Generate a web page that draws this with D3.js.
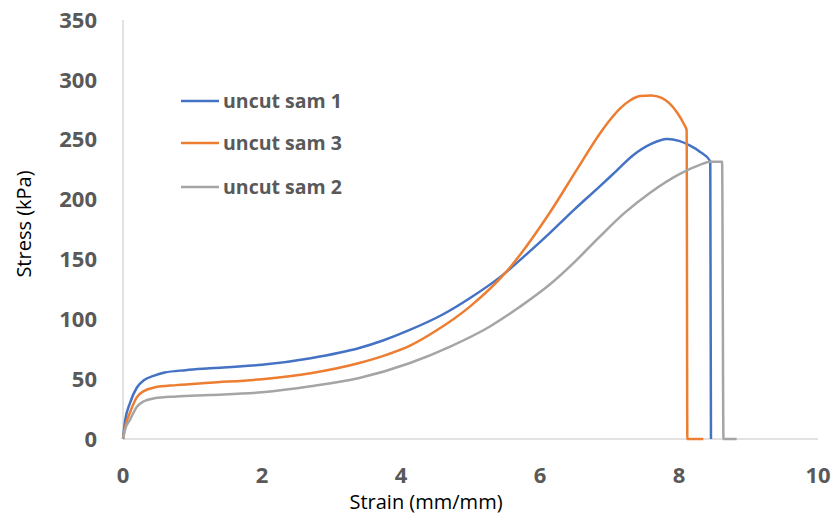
<!DOCTYPE html>
<html>
<head>
<meta charset="utf-8">
<script src="https://cdn.jsdelivr.net/npm/d3@7"></script>
<style>
  body { margin: 0; background: #fff; }
  svg { display: block; }
</style>
</head>
<body>
<script>
// series: [strain, stress]
var sam1 = [[0,0],[0.03,15],[0.1,30],[0.2,43],[0.3,49],[0.45,53],[0.6,55.5],[0.9,57.5],[1.25,59],[1.5,60],
  [2,62],[2.7,67.5],[3.4,76],[3.75,82.5],[4.1,90.5],[4.6,104],[5,118],[5.42,135],[5.8,154],[6.14,172],[6.5,192],
  [6.86,211],[7.1,224],[7.34,237],[7.6,246.5],[7.83,250.5],[8,249],[8.16,245],[8.3,240],[8.45,232],[8.46,0]];
var sam3 = [[0,0],[0.03,10],[0.1,22],[0.2,35],[0.3,40],[0.45,43],[0.77,45],[1.25,47],[2,50],[2.7,55],[3.4,63.5],
  [3.8,70.5],[4.13,78],[4.52,91],[5,111],[5.52,140],[6.14,189],[6.53,225],[6.86,255],[7.0,266],[7.15,276],
  [7.3,283],[7.44,286.5],[7.6,287],[7.75,285],[7.97,273],[8.08,262],[8.11,258],[8.12,0],[8.35,0]];
var sam2 = [[0,0],[0.03,8],[0.1,16],[0.2,27],[0.3,31.5],[0.45,34],[0.77,35.5],[1.25,36.7],[2,39],[2.7,44],[3.4,51],
  [4.13,63.5],[4.7,77],[5.28,94],[5.7,110],[6.14,129],[6.5,148],[6.86,169],[7.2,188],[7.58,205.5],[8,221],
  [8.3,229],[8.45,231.5],[8.62,231.5],[8.64,0],[8.83,0]];

var seriesNames = ["uncut sam 1", "uncut sam 3", "uncut sam 2"];
var seriesColors = ["#4472C4", "#ED7D31", "#A5A5A5"];
var xTicks = [0, 2, 4, 6, 8, 10];
var yTicks = [0, 50, 100, 150, 200, 250, 300, 350];

var width = 835, height = 521;
var svg = d3.select("body").append("svg")
    .attr("width", width)
    .attr("height", height);

var x = d3.scaleLinear().domain([0, 10]).range([123, 818]);
var y = d3.scaleLinear().domain([0, 350]).range([439, 20]);

// axis lines
svg.append("line")
    .attr("x1", x(0)).attr("x2", x(0))
    .attr("y1", y(0)).attr("y2", y(350))
    .attr("stroke", "#D9D9D9").attr("stroke-width", 1.5);
svg.append("line")
    .attr("x1", x(0)).attr("x2", x(10))
    .attr("y1", y(0)).attr("y2", y(0))
    .attr("stroke", "#D9D9D9").attr("stroke-width", 1.5);

// tick labels
svg.selectAll(".ytick").data(yTicks).enter().append("text")
    .attr("class", "ytick")
    .attr("x", 97)
    .attr("y", function (d) { return y(d); })
    .attr("dy", "0.35em")
    .attr("text-anchor", "end")
    .attr("font-family", "Open Sans")
    .attr("font-weight", "bold")
    .attr("font-size", 22)
    .attr("fill", "#595959")
    .text(function (d) { return d; });

svg.selectAll(".xtick").data(xTicks).enter().append("text")
    .attr("class", "xtick")
    .attr("x", function (d) { return x(d); })
    .attr("y", 475)
    .attr("dy", "0.35em")
    .attr("text-anchor", "middle")
    .attr("font-family", "Open Sans")
    .attr("font-weight", "bold")
    .attr("font-size", 22)
    .attr("fill", "#595959")
    .text(function (d) { return d; });

// axis titles
svg.append("text")
    .attr("transform", "translate(24,224) rotate(-90)")
    .attr("dy", "0.35em")
    .attr("text-anchor", "middle")
    .attr("font-family", "Open Sans")
    .attr("font-size", 20)
    .attr("fill", "#000")
    .text("Stress (kPa)");
svg.append("text")
    .attr("x", 426)
    .attr("y", 502)
    .attr("dy", "0.35em")
    .attr("text-anchor", "middle")
    .attr("font-family", "Open Sans")
    .attr("font-size", 20)
    .attr("fill", "#000")
    .text("Strain (mm/mm)");

// curves
var line = d3.line()
    .x(function (d) { return x(d[0]); })
    .y(function (d) { return y(d[1]); })
    .curve(d3.curveMonotoneX);

[sam1, sam3, sam2].forEach(function (s, i) {
    svg.append("path")
        .attr("d", line(s))
        .attr("fill", "none")
        .attr("stroke", seriesColors[i])
        .attr("stroke-width", 2.5)
        .attr("stroke-linejoin", "round");
});

// legend
var legendY = [101, 143, 187];
seriesNames.forEach(function (name, i) {
    svg.append("line")
        .attr("x1", 181).attr("x2", 219)
        .attr("y1", legendY[i]).attr("y2", legendY[i])
        .attr("stroke", seriesColors[i])
        .attr("stroke-width", 2.5);
    svg.append("text")
        .attr("x", 223)
        .attr("y", legendY[i])
        .attr("dy", "0.35em")
        .attr("font-family", "Open Sans")
        .attr("font-weight", "bold")
        .attr("font-size", 19.5)
        .attr("fill", "#595959")
        .text(name);
});
</script>
</body>
</html>
